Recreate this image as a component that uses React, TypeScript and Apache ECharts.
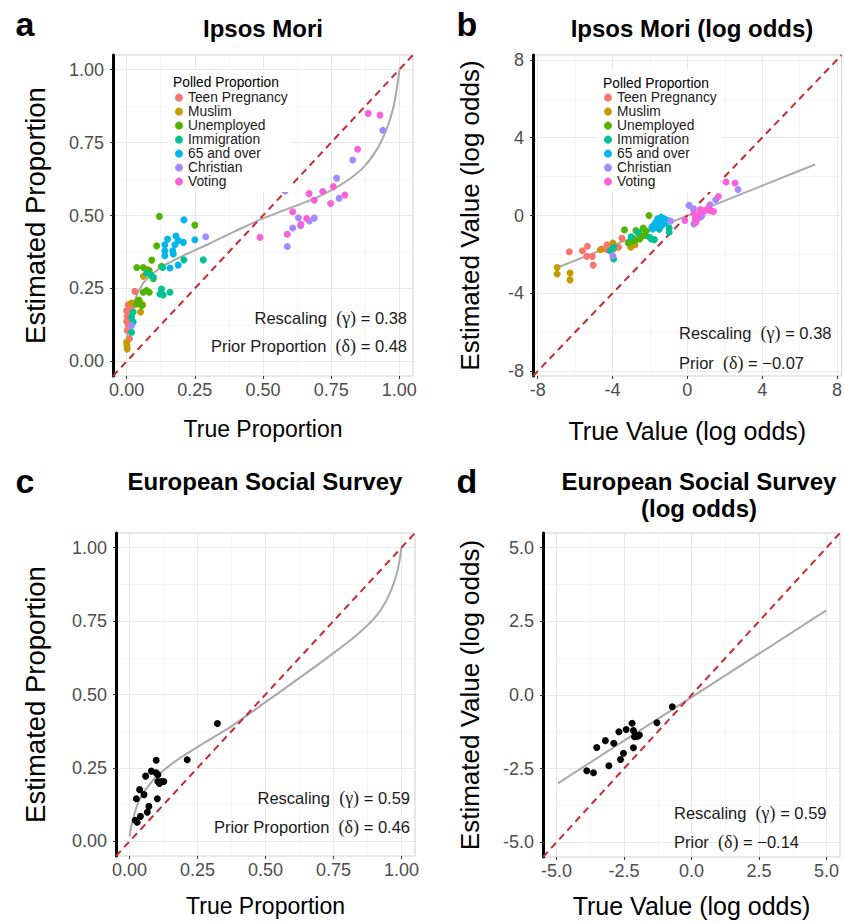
import React, { useEffect, useRef } from "react";
import * as echarts from "echarts";

const FONT = "'Liberation Sans', Arial, Helvetica, sans-serif";
const SERIF = "'Liberation Serif', 'DejaVu Serif', serif";

const categories = ["Teen Pregnancy", "Muslim", "Unemployed", "Immigration", "65 and over", "Christian", "Voting"];
const catColors = ["#F8766D", "#C49A00", "#53B400", "#00C094", "#00B6EB", "#A58AFF", "#FB61D7"];

// Panel a: true vs estimated proportion (Ipsos Mori)
const teenA = [[0.006, 0.194], [0.015, 0.186], [0.022, 0.191], [0.0, 0.174], [0.01, 0.169], [0.002, 0.155], [0.012, 0.146], [0.0, 0.137], [0.006, 0.123], [0.002, 0.106], [0.01, 0.078], [0.03, 0.24]];
const muslimA = [[0.0, 0.066], [0.001, 0.055], [0.002, 0.043], [0.018, 0.2], [0.033, 0.2], [0.049, 0.203], [0.051, 0.169], [0.059, 0.194], [0.061, 0.292], [0.075, 0.315]];
const unemployedA = [[0.12, 0.497], [0.25, 0.467], [0.11, 0.396], [0.092, 0.347], [0.037, 0.322], [0.061, 0.322], [0.083, 0.311], [0.128, 0.326], [0.061, 0.237], [0.073, 0.243], [0.083, 0.237], [0.037, 0.197], [0.055, 0.191], [0.098, 0.283], [0.045, 0.21]];
const immigrationA = [[0.281, 0.348], [0.21, 0.348], [0.073, 0.303], [0.088, 0.296], [0.098, 0.288], [0.132, 0.322], [0.128, 0.248], [0.122, 0.231], [0.134, 0.228], [0.159, 0.237], [0.024, 0.169], [0.018, 0.152], [0.024, 0.135], [0.018, 0.1]];
const over65A = [[0.21, 0.485], [0.181, 0.43], [0.15, 0.419], [0.189, 0.414], [0.208, 0.408], [0.25, 0.417], [0.14, 0.4], [0.177, 0.4], [0.14, 0.379], [0.169, 0.379], [0.14, 0.362], [0.171, 0.368], [0.189, 0.33], [0.159, 0.32]];
const christianA = [[0.29, 0.427], [0.018, 0.123], [0.939, 0.792], [0.829, 0.69], [0.77, 0.628], [0.779, 0.559], [0.581, 0.584], [0.63, 0.492], [0.688, 0.491], [0.67, 0.481], [0.609, 0.457], [0.638, 0.465], [0.589, 0.394], [0.529, 0.615]];
const votingA = [[0.886, 0.85], [0.929, 0.844], [0.847, 0.727], [0.8, 0.57], [0.758, 0.599], [0.748, 0.541], [0.719, 0.582], [0.688, 0.552], [0.669, 0.575], [0.609, 0.513], [0.66, 0.49], [0.639, 0.47], [0.589, 0.436], [0.489, 0.425]];

// Panel b: log odds (Ipsos Mori)
const teenB = [[-6.31, -1.86], [-5.61, -1.81], [-5.34, -1.58], [-5.38, -2.1], [-5.08, -2.1], [-5.03, -2.55], [-4.56, -1.72], [-4.29, -1.51], [-4.29, -1.76], [-3.68, -1.63], [-3.5, -1.17], [-4.0, -1.55]];
const muslimB = [[-6.96, -2.67], [-6.96, -3.01], [-6.27, -2.96], [-6.27, -3.31], [-4.65, -1.76], [-3.98, -1.41], [-3.02, -1.63], [-2.54, -1.03], [-2.8, -1.5], [-3.94, -1.72]];
const unemployedB = [[-3.36, -0.74], [-2.75, -0.77], [-2.36, -0.65], [-2.05, 0.0], [-1.14, -0.34], [-3.15, -1.41], [-2.8, -1.29], [-2.54, -1.2], [-2.28, -1.03], [-2.9, -1.2], [-2.6, -0.9], [-1.8, -0.5], [-2.2, -0.8], [-3.0, -1.35]];
const immigrationB = [[-3.94, -1.63], [-3.94, -2.24], [-4.12, -1.81], [-1.93, -1.2], [-1.76, -1.24], [-2.02, -1.12], [-0.97, -0.65], [-0.97, -0.86], [-2.63, -0.86], [-1.5, -0.7], [-3.0, -1.1]];
const over65B = [[-1.4, -0.09], [-1.67, -0.34], [-1.31, -0.43], [-1.49, -0.6], [-1.75, -0.52], [-1.18, -0.34], [-1.58, -0.17], [-1.84, -0.69], [-1.23, -0.17], [-1.05, -0.26], [-1.6, -0.45], [-1.45, -0.3], [-1.9, -0.6], [-1.35, -0.5]];
const christianB = [[-0.9, -0.29], [-3.98, -2.07], [2.71, 1.34], [1.52, 0.81], [1.21, 0.55], [1.26, 0.24], [0.33, 0.34], [0.53, -0.03], [0.79, 0.0], [0.71, -0.08], [0.44, -0.17], [0.57, -0.14], [0.35, -0.43], [0.09, 0.52]];
const votingB = [[2.07, 1.72], [2.55, 1.67], [1.66, 0.98], [-0.13, -0.26], [0.44, -0.17], [0.61, 0.0], [0.79, 0.21], [0.96, 0.26], [1.22, 0.26], [1.4, 0.21], [0.7, 0.31], [0.35, 0.09], [0.47, -0.34], [1.14, 0.38]];

// Panel c: European Social Survey, proportions
const essProp = [[0.323, 0.401], [0.212, 0.278], [0.098, 0.276], [0.08, 0.239], [0.098, 0.233], [0.104, 0.227], [0.059, 0.222], [0.104, 0.204], [0.117, 0.204], [0.126, 0.204], [0.11, 0.197], [0.037, 0.176], [0.053, 0.159], [0.025, 0.145], [0.102, 0.145], [0.071, 0.119], [0.065, 0.099], [0.04, 0.085], [0.021, 0.072], [0.028, 0.065]];
// Panel d: European Social Survey, log odds
const essLog = [[-0.715, -0.4], [-1.28, -0.94], [-2.2, -0.96], [-2.42, -1.17], [-2.69, -1.25], [-2.15, -1.21], [-2.07, -1.36], [-1.99, -1.4], [-2.11, -1.42], [-1.93, -1.36], [-3.19, -1.55], [-2.88, -1.64], [-3.51, -1.78], [-2.15, -1.79], [-2.52, -1.98], [-2.63, -2.19], [-3.06, -2.4], [-3.88, -2.57], [-3.63, -2.64]];

// fitted curves
const curveA = [[0.0, 0.03], [0.006, 0.123], [0.018, 0.18], [0.037, 0.225], [0.061, 0.268], [0.098, 0.303], [0.147, 0.334], [0.22, 0.368], [0.306, 0.405], [0.4, 0.447], [0.5, 0.49], [0.6, 0.526], [0.7, 0.563], [0.8, 0.614], [0.868, 0.665], [0.92, 0.73], [0.955, 0.8], [0.978, 0.87], [0.993, 0.95], [1.0, 1.0]];
const lineB = [[-6.92, -2.67], [6.83, 2.62]];
const curveC = [[0.0, 0.017], [0.012, 0.074], [0.037, 0.142], [0.086, 0.208], [0.16, 0.267], [0.258, 0.326], [0.38, 0.395], [0.5, 0.474], [0.62, 0.553], [0.74, 0.634], [0.84, 0.706], [0.91, 0.77], [0.955, 0.84], [0.985, 0.92], [1.0, 1.0]];
const lineD = [[-4.95, -3.0], [4.99, 2.87]];

// identity lines
const identityProp = [[-0.05, -0.05], [1.05, 1.05]];
const identityB = [[-8.25, -8.25], [8.25, 8.25]];
const identityD = [[-5.5, -5.5], [5.5, 5.5]];

// ticks
const propTicks = [0, 0.25, 0.5, 0.75, 1];
const propMinor = [0.125, 0.375, 0.625, 0.875];
const logTicksB = [-8, -4, 0, 4, 8];
const logMinorB = [-6, -2, 2, 6];
const logTicksD = [-5, -2.5, 0, 2.5, 5];
const logMinorD = [-3.75, -1.25, 1.25, 3.75];

const fmtProp = (v: number) => v.toFixed(2);
const fmtInt = (v: number) => String(Math.round(v));
const fmt1 = (v: number) => v.toFixed(1);

function mainAxis(dim: "x" | "y", grid: number, min: number, max: number, ticks: number[], fmt: any, name: string, nameGap: number, nameSize: number) {
  const isY = dim === "y";
  return {
    type: "value",
    gridIndex: grid,
    min,
    max,
    position: isY ? "left" : "bottom",
    name,
    nameLocation: "middle",
    nameGap,
    nameTextStyle: { fontSize: nameSize, color: "#000", fontFamily: FONT },
    axisLine: isY
      ? { show: true, onZero: false, lineStyle: { color: "#000", width: 3 } }
      : { show: false, onZero: false },
    axisTick: { show: true, customValues: ticks, length: 3, lineStyle: { color: "#333", width: 1 } },
    axisLabel: { customValues: ticks, formatter: fmt, fontSize: 18, color: "#4d4d4d", margin: isY ? 9 : 5, fontFamily: FONT },
    splitLine: { show: true, lineStyle: { color: "#e8e8e8", width: 1 } },
  };
}

function minorAxis(dim: "x" | "y", grid: number, min: number, max: number, minor: number[]) {
  return {
    type: "value",
    gridIndex: grid,
    min,
    max,
    position: dim === "y" ? "left" : "bottom",
    axisLine: { show: false, onZero: false },
    axisTick: { show: false, customValues: minor },
    axisLabel: { show: false, customValues: minor },
    splitLine: { show: true, lineStyle: { color: "#f4f4f4", width: 0.8 } },
  };
}

function identitySeries(axisIdx: number, data: number[][]) {
  return {
    type: "line",
    xAxisIndex: axisIdx,
    yAxisIndex: axisIdx,
    data,
    symbol: "none",
    silent: true,
    z: 3,
    lineStyle: { color: "#c62a2f", width: 2, type: [7, 5] },
  };
}

function curveSeries(axisIdx: number, data: number[][]) {
  return {
    type: "line",
    xAxisIndex: axisIdx,
    yAxisIndex: axisIdx,
    data,
    symbol: "none",
    smooth: 0.35,
    silent: true,
    z: 2,
    lineStyle: { color: "#a9a9a9", width: 2 },
  };
}

function scatterSeries(axisIdx: number, name: string, color: string, data: number[][]) {
  return {
    type: "scatter",
    name,
    xAxisIndex: axisIdx,
    yAxisIndex: axisIdx,
    data,
    symbolSize: 7,
    z: 4,
    itemStyle: { color, opacity: 1 },
  };
}

function legendCfg(left: number) {
  return {
    orient: "vertical",
    left,
    top: 70,
    padding: [20.6, 4, 3.5, 7],
    backgroundColor: "#ffffff",
    itemWidth: 8,
    itemHeight: 8,
    itemGap: 0,
    icon: "circle",
    selectedMode: false,
    z: 6,
    textStyle: { fontSize: 13.8, lineHeight: 12.7, color: "#1a1a1a", fontFamily: FONT },
    data: categories,
  };
}

function annot(x: number, y: number, align: string, label: string, greek: string, value: string) {
  return {
    type: "text",
    x,
    y,
    z: 20,
    style: {
      text: `{n|${label}  }{g|(${greek})}{n| = ${value}}`,
      align,
      verticalAlign: "middle",
      rich: {
        n: { fontSize: 16.5, fontFamily: FONT, fill: "#1a1a1a" },
        g: { fontSize: 18, fontFamily: SERIF, fill: "#1a1a1a" },
      },
    },
  };
}

function txt(x: number, y: number, text: string, size: number, weight: string, align = "center") {
  return {
    type: "text",
    x,
    y,
    z: 20,
    style: { text, fontSize: size, fontWeight: weight, fontFamily: FONT, fill: "#000", align, verticalAlign: "middle" },
  };
}

export default function App() {
  const ref = useRef<HTMLDivElement>(null);
  useEffect(() => {
    if (!ref.current) return;
    const chart = echarts.init(ref.current, undefined, { renderer: "svg" });
    const groupsA = [teenA, muslimA, unemployedA, immigrationA, over65A, christianA, votingA];
    const groupsB = [teenB, muslimB, unemployedB, immigrationB, over65B, christianB, votingB];
    const gridStyle = { show: true, backgroundColor: "#fff", borderColor: "#cfcfcf", borderWidth: 1 };
    const option: any = {
      animation: false,
      backgroundColor: "#fff",
      grid: [
        { left: 113, top: 55, width: 300, height: 321, ...gridStyle },
        { left: 533, top: 55, width: 317, height: 321, ...gridStyle },
        { left: 116, top: 533, width: 299, height: 323, ...gridStyle },
        { left: 543, top: 533, width: 297, height: 324, ...gridStyle },
      ],
      xAxis: [
        mainAxis("x", 0, -0.05, 1.05, propTicks, fmtProp, "True Proportion", 41, 23),
        minorAxis("x", 0, -0.05, 1.05, propMinor),
        mainAxis("x", 1, -8.25, 8.25, logTicksB, fmtInt, "True Value (log odds)", 42, 25),
        minorAxis("x", 1, -8.25, 8.25, logMinorB),
        mainAxis("x", 2, -0.05, 1.05, propTicks, fmtProp, "True Proportion", 38, 23),
        minorAxis("x", 2, -0.05, 1.05, propMinor),
        mainAxis("x", 3, -5.5, 5.5, logTicksD, fmt1, "True Value (log odds)", 36, 25),
        minorAxis("x", 3, -5.5, 5.5, logMinorD),
      ],
      yAxis: [
        mainAxis("y", 0, -0.05, 1.05, propTicks, fmtProp, "Estimated Proportion", 64, 27.5),
        minorAxis("y", 0, -0.05, 1.05, propMinor),
        mainAxis("y", 1, -8.25, 8.25, logTicksB, fmtInt, "Estimated Value (log odds)", 50, 26),
        minorAxis("y", 1, -8.25, 8.25, logMinorB),
        mainAxis("y", 2, -0.05, 1.05, propTicks, fmtProp, "Estimated Proportion", 67, 27.5),
        minorAxis("y", 2, -0.05, 1.05, propMinor),
        mainAxis("y", 3, -5.5, 5.5, logTicksD, fmt1, "Estimated Value (log odds)", 60, 26),
        minorAxis("y", 3, -5.5, 5.5, logMinorD),
      ],
      legend: [legendCfg(168), legendCfg(597)],
      series: [
        curveSeries(0, curveA),
        identitySeries(0, identityProp),
        ...categories.map((c, i) => scatterSeries(0, c, catColors[i], groupsA[i])),
        curveSeries(2, lineB),
        identitySeries(2, identityB),
        ...categories.map((c, i) => scatterSeries(2, c, catColors[i], groupsB[i])),
        curveSeries(4, curveC),
        identitySeries(4, identityProp),
        scatterSeries(4, "ESS", "#000", essProp),
        curveSeries(6, lineD),
        identitySeries(6, identityD),
        scatterSeries(6, "ESS log", "#000", essLog),
      ],
      graphic: [
        txt(25, 24, "a", 34, "bold"),
        txt(467, 24, "b", 34, "bold"),
        txt(25, 481, "c", 34, "bold"),
        txt(467, 481, "d", 34, "bold"),
        txt(263, 28, "Ipsos Mori", 24, "bold"),
        txt(692, 28, "Ipsos Mori (log odds)", 24, "bold"),
        txt(265, 481, "European Social Survey", 24, "bold"),
        txt(699, 481, "European Social Survey", 24, "bold"),
        txt(699, 508, "(log odds)", 24, "bold"),
        txt(173, 82, "Polled Proportion", 13.8, "normal", "left"),
        txt(603, 83, "Polled Proportion", 13.8, "normal", "left"),
        annot(407, 318, "right", "Rescaling", "γ", "0.38"),
        annot(407, 346, "right", "Prior Proportion", "δ", "0.48"),
        annot(679, 333, "left", "Rescaling", "γ", "0.38"),
        annot(679, 363, "left", "Prior", "δ", "−0.07"),
        annot(410, 798, "right", "Rescaling", "γ", "0.59"),
        annot(410, 827, "right", "Prior Proportion", "δ", "0.46"),
        annot(674, 813, "left", "Rescaling", "γ", "0.59"),
        annot(674, 842, "left", "Prior", "δ", "−0.14"),
      ],
    };
    chart.setOption(option);
    return () => chart.dispose();
  }, []);
  return <div ref={ref} style={{ position: "absolute", left: 0, top: 0, width: 845, height: 923, background: "#fff" }} />;
}
